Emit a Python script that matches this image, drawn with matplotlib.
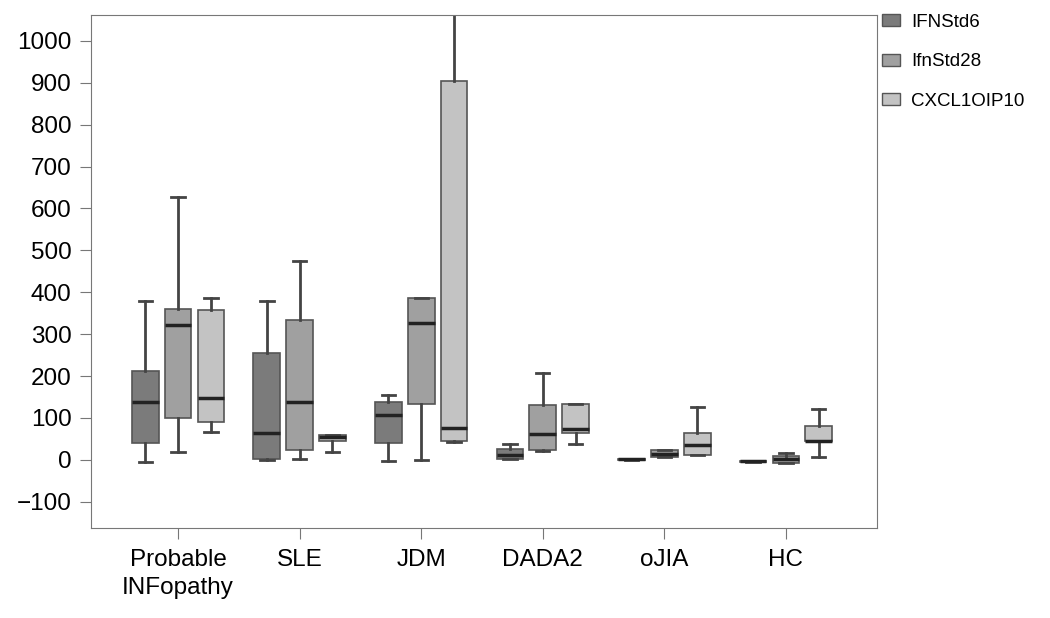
import matplotlib
matplotlib.use("Agg")
import matplotlib.pyplot as plt
from matplotlib.patches import Patch

plt.rcParams['font.family'] = ['Liberation Sans', 'DejaVu Sans']

# Grupos y series
groups = ['Probable\nINFopathy', 'SLE', 'JDM', 'DADA2', 'oJIA', 'HC']
series = ['IFNStd6', 'IfnStd28', 'CXCL1OIP10']
colors = ['#7b7b7b', '#a0a0a0', '#c3c3c3']

# Estadísticos por serie: [whislo, q1, med, q3, whishi] por grupo
ifnstd6 = [
    [-5, 40, 137, 213, 380],
    [0, 2, 64, 255, 380],
    [-2, 41, 106, 138, 155],
    [2, 2, 12, 25, 37],
    [0, 0, 1, 2, 2],
    [-5, -4, -3, -3, -2],
]
ifnstd28 = [
    [20, 100, 323, 360, 627],
    [2, 24, 137, 333, 475],
    [0, 133, 326, 387, 387],
    [22, 24, 62, 130, 207],
    [8, 8, 13, 24, 24],
    [-8, -8, 1, 10, 17],
]
cxcl = [
    [67, 90, 147, 358, 386],
    [20, 44, 55, 59, 59],
    [43, 46, 76, 905, 1100],
    [38, 65, 73, 133, 133],
    [12, 12, 36, 65, 125],
    [8, 44, 46, 81, 122],
]
all_series = [ifnstd6, ifnstd28, cxcl]

fig = plt.figure(figsize=(10.5, 6.18), dpi=100)
ax = fig.add_axes([0.0867, 0.146, 0.749, 0.830])

width = 0.22
offsets = [-0.27, 0, 0.27]

for s, data in enumerate(all_series):
    stats = []
    for vals in data:
        lo, q1, med, q3, hi = vals
        stats.append(dict(whislo=lo, q1=q1, med=med, q3=q3, whishi=hi, fliers=[]))
    pos = [i + offsets[s] for i in range(len(groups))]
    ax.bxp(stats, positions=pos, widths=width, patch_artist=True,
           showfliers=False, capwidths=width * 0.5, manage_ticks=False,
           boxprops=dict(facecolor=colors[s], edgecolor='#555555', linewidth=1.2),
           medianprops=dict(color='#222222', linewidth=2.5),
           whiskerprops=dict(color='#444444', linewidth=2),
           capprops=dict(color='#444444', linewidth=2))

ax.set_xlim(-0.716, 5.753)
ax.set_ylim(-162, 1062)
ax.set_yticks(range(-100, 1001, 100))
ax.set_yticklabels(['\u2212100'] + [str(v) for v in range(0, 1001, 100)])
ax.set_xticks(range(len(groups)))
ax.set_xticklabels(groups, fontsize=17.5, linespacing=1.35)
ax.tick_params(axis='y', labelsize=17.5, length=8, color='#777777', pad=6)
ax.tick_params(axis='x', length=8, color='#777777', pad=7)
for sp in ax.spines.values():
    sp.set_color('#777777')

# Leyenda fuera del área de trazado
handles = [Patch(facecolor=c, edgecolor='#555555', label=l) for c, l in zip(colors, series)]
fig.legend(handles=handles, loc='upper left', bbox_to_anchor=(0.824, 1.005),
           frameon=False, fontsize=13.5, labelspacing=1.2, handlelength=0.95,
           handleheight=0.6, handletextpad=0.6)

fig.savefig('out.png', dpi=100)
